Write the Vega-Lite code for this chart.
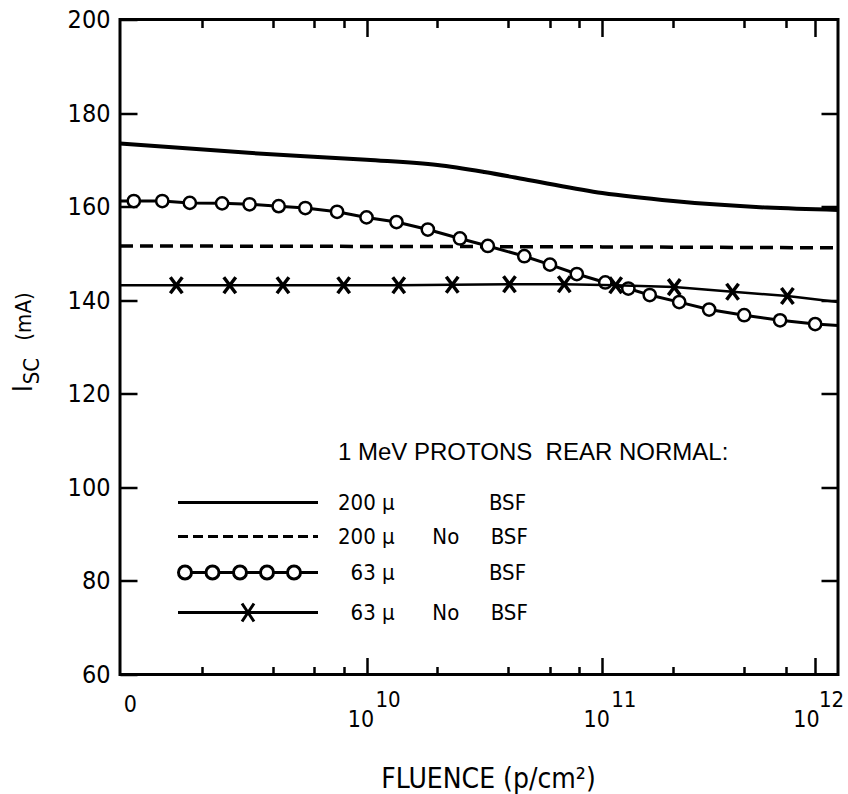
{
  "$schema": "https://vega.github.io/schema/vega-lite/v6.json",
  "width": 718,
  "height": 655,
  "autosize": {"type": "none"},
  "padding": {"left": 120, "top": 19.5, "right": 10, "bottom": 119.5},
  "background": "white",
  "title": {
    "text": "1 MeV PROTONS\u00a0 REAR NORMAL:",
    "anchor": "start",
    "frame": "group",
    "orient": "top",
    "offset": 0,
    "dx": 218,
    "dy": 476,
    "baseline": "alphabetic",
    "font": "Liberation Sans",
    "fontSize": 24,
    "fontWeight": "normal",
    "color": "black"
  },
  "datasets": {
    "curves": [
      {"series": "200μ BSF", "fluence": 9e8, "isc": 173.5},
      {"series": "200μ BSF", "fluence": 3.16e9, "isc": 171.5},
      {"series": "200μ BSF", "fluence": 1e10, "isc": 170.0},
      {"series": "200μ BSF", "fluence": 2e10, "isc": 168.9},
      {"series": "200μ BSF", "fluence": 3.16e10, "isc": 167.4},
      {"series": "200μ BSF", "fluence": 5e10, "isc": 165.6},
      {"series": "200μ BSF", "fluence": 1e11, "isc": 162.9},
      {"series": "200μ BSF", "fluence": 2e11, "isc": 161.2},
      {"series": "200μ BSF", "fluence": 5e11, "isc": 159.8},
      {"series": "200μ BSF", "fluence": 1e12, "isc": 159.3},

      {"series": "200μ No BSF", "fluence": 9e8, "isc": 151.6},
      {"series": "200μ No BSF", "fluence": 1e10, "isc": 151.5},
      {"series": "200μ No BSF", "fluence": 1e11, "isc": 151.4},
      {"series": "200μ No BSF", "fluence": 1e12, "isc": 151.2},

      {"series": "63μ BSF", "fluence": 9e8, "isc": 161.2},
      {"series": "63μ BSF", "fluence": 1.03e9, "isc": 161.2},
      {"series": "63μ BSF", "fluence": 1.36e9, "isc": 161.2},
      {"series": "63μ BSF", "fluence": 1.78e9, "isc": 160.8},
      {"series": "63μ BSF", "fluence": 2.44e9, "isc": 160.7},
      {"series": "63μ BSF", "fluence": 3.19e9, "isc": 160.5},
      {"series": "63μ BSF", "fluence": 4.24e9, "isc": 160.1},
      {"series": "63μ BSF", "fluence": 5.5e9, "isc": 159.7},
      {"series": "63μ BSF", "fluence": 7.5e9, "isc": 158.9},
      {"series": "63μ BSF", "fluence": 1.0e10, "isc": 157.7},
      {"series": "63μ BSF", "fluence": 1.34e10, "isc": 156.7},
      {"series": "63μ BSF", "fluence": 1.82e10, "isc": 155.1},
      {"series": "63μ BSF", "fluence": 2.49e10, "isc": 153.2},
      {"series": "63μ BSF", "fluence": 3.27e10, "isc": 151.6},
      {"series": "63μ BSF", "fluence": 4.67e10, "isc": 149.4},
      {"series": "63μ BSF", "fluence": 6.0e10, "isc": 147.6},
      {"series": "63μ BSF", "fluence": 7.8e10, "isc": 145.6},
      {"series": "63μ BSF", "fluence": 1.03e11, "isc": 143.8},
      {"series": "63μ BSF", "fluence": 1.29e11, "isc": 142.5},
      {"series": "63μ BSF", "fluence": 1.59e11, "isc": 141.1},
      {"series": "63μ BSF", "fluence": 2.12e11, "isc": 139.6},
      {"series": "63μ BSF", "fluence": 2.84e11, "isc": 138.0},
      {"series": "63μ BSF", "fluence": 4.0e11, "isc": 136.8},
      {"series": "63μ BSF", "fluence": 5.68e11, "isc": 135.7},
      {"series": "63μ BSF", "fluence": 8.0e11, "isc": 134.9},
      {"series": "63μ BSF", "fluence": 1e12, "isc": 134.6},

      {"series": "63μ No BSF", "fluence": 9e8, "isc": 143.2},
      {"series": "63μ No BSF", "fluence": 1.56e9, "isc": 143.2},
      {"series": "63μ No BSF", "fluence": 2.63e9, "isc": 143.2},
      {"series": "63μ No BSF", "fluence": 4.42e9, "isc": 143.2},
      {"series": "63μ No BSF", "fluence": 8.0e9, "isc": 143.2},
      {"series": "63μ No BSF", "fluence": 1.37e10, "isc": 143.2},
      {"series": "63μ No BSF", "fluence": 2.31e10, "isc": 143.3},
      {"series": "63μ No BSF", "fluence": 4.04e10, "isc": 143.4},
      {"series": "63μ No BSF", "fluence": 6.9e10, "isc": 143.4},
      {"series": "63μ No BSF", "fluence": 1.14e11, "isc": 143.2},
      {"series": "63μ No BSF", "fluence": 2.02e11, "isc": 142.8},
      {"series": "63μ No BSF", "fluence": 3.57e11, "isc": 141.8},
      {"series": "63μ No BSF", "fluence": 6.1e11, "isc": 140.9},
      {"series": "63μ No BSF", "fluence": 1e12, "isc": 139.6}
    ]
  },
  "data": {"name": "curves"},
  "layer": [
    {
      "transform": [{"filter": "datum.series == '200μ BSF'"}],
      "mark": {"type": "line", "interpolate": "monotone", "color": "black", "strokeWidth": 4},
      "encoding": {
        "x": {
          "field": "fluence", "type": "quantitative",
          "scale": {"type": "log", "domain": [9e8, 1e12], "nice": false},
          "axis": {
            "orient": "bottom",
            "values": [1.05e9, 2e9, 4e9, 6e9, 8e9, 1e10, 2e10, 4e10, 6e10, 8e10, 1e11, 2e11, 4e11, 6e11, 8e11, 1e12],
            "labelExpr": "datum.value < 1.5e9 ? '0' : (datum.value == 1e10 || datum.value == 1e11 || datum.value == 1e12) ? '10' : ''",
            "tickSize": {"condition": {"test": "datum.value == 1e10 || datum.value == 1e11 || datum.value >= 8e11", "value": -17}, "value": -8},
            "tickOpacity": {"condition": {"test": "datum.value < 1.5e9 || datum.value > 9.5e11", "value": 0}, "value": 1},
            "labelPadding": {"condition": {"test": "datum.value < 1.5e9", "value": 27}, "value": 51},
            "labelOffset": {"condition": {"test": "datum.value > 9.5e11", "value": -32}, "value": -6},
            "labelBaseline": "top",
            "labelAlign": "center",
            "labelFontSize": 23,
            "title": "FLUENCE (p/cm²)",
            "titleFontSize": 28,
            "titleX": 368,
            "titleY": 113,
            "titleBaseline": "alphabetic",
            "titleAlign": "center"
          }
        },
        "y": {
          "field": "isc", "type": "quantitative",
          "scale": {"domain": [60, 200], "nice": false, "zero": false},
          "axis": {
            "orient": "left",
            "values": [60, 80, 100, 120, 140, 160, 180, 200],
            "tickSize": -17,
            "labelPadding": 27,
            "labelFontSize": 25,
            "title": "I",
            "titleFontSize": 26,
            "titleX": -89,
            "titleY": 368.5,
            "titleAngle": 270,
            "titleBaseline": "alphabetic",
            "titleAlign": "center"
          }
        }
      }
    },
    {
      "transform": [{"filter": "datum.series == '200μ No BSF'"}],
      "mark": {"type": "line", "color": "black", "strokeWidth": 3.5, "strokeDash": [13, 7]},
      "encoding": {
        "x": {
          "field": "fluence", "type": "quantitative",
          "axis": {
            "orient": "bottom",
            "values": [1e10, 1e11, 1e12],
            "ticks": false,
            "labelExpr": "datum.value < 5e10 ? '10' : datum.value < 5e11 ? '11' : '12'",
            "labelPadding": 15,
            "labelBaseline": "top",
            "labelAlign": "center",
            "labelOffset": {"condition": {"test": "datum.value > 5e11", "value": -7}, "value": 21},
            "labelFontSize": 22,
            "title": null
          }
        },
        "y": {
          "field": "isc", "type": "quantitative",
          "axis": {"orient": "right", "values": [80, 100, 120, 140, 160, 180], "tickSize": -17, "labels": false, "title": null}
        }
      }
    },
    {
      "transform": [{"filter": "datum.series == '63μ BSF'"}],
      "mark": {"type": "line", "color": "black", "strokeWidth": 3},
      "encoding": {
        "x": {
          "field": "fluence", "type": "quantitative",
          "axis": {
            "orient": "top",
            "values": [2e9, 4e9, 6e9, 8e9, 1e10, 2e10, 4e10, 6e10, 8e10, 1e11, 2e11, 4e11, 6e11, 8e11],
            "labels": false,
            "tickSize": {"condition": {"test": "datum.value == 1e10 || datum.value == 1e11 || datum.value >= 8e11", "value": -17}, "value": -8},
            "title": null
          }
        },
        "y": {
          "field": "isc", "type": "quantitative",
          "axis": {
            "orient": "left", "ticks": false, "labels": false,
            "title": "SC", "titleFontSize": 22, "titleX": -82, "titleY": 351,
            "titleAngle": 270, "titleBaseline": "alphabetic", "titleAlign": "center"
          }
        }
      }
    },
    {
      "transform": [{"filter": "datum.series == '63μ BSF' && datum.fluence > 9.5e8 && datum.fluence < 9.5e11"}],
      "mark": {"type": "point", "shape": "circle", "filled": true, "fill": "white", "stroke": "black", "strokeWidth": 2.5, "size": 150, "opacity": 1},
      "encoding": {
        "x": {"field": "fluence", "type": "quantitative", "axis": null},
        "y": {"field": "isc", "type": "quantitative", "axis": null}
      }
    },
    {
      "transform": [{"filter": "datum.series == '63μ No BSF'"}],
      "mark": {"type": "line", "color": "black", "strokeWidth": 2.5},
      "encoding": {
        "x": {"field": "fluence", "type": "quantitative", "axis": null},
        "y": {
          "field": "isc", "type": "quantitative",
          "axis": {
            "orient": "left", "ticks": false, "labels": false,
            "title": "(mA)", "titleFontSize": 22, "titleX": -90, "titleY": 296.5,
            "titleAngle": 270, "titleBaseline": "alphabetic", "titleAlign": "center"
          }
        }
      }
    },
    {
      "transform": [{"filter": "datum.series == '63μ No BSF' && datum.fluence > 9.5e8 && datum.fluence < 9.5e11"}],
      "mark": {"type": "point", "shape": "M-0.75,-1L0.75,1M0.75,-1L-0.75,1", "filled": false, "stroke": "black", "strokeWidth": 3.5, "size": 256, "opacity": 1},
      "encoding": {
        "x": {"field": "fluence", "type": "quantitative", "axis": null},
        "y": {"field": "isc", "type": "quantitative", "axis": null}
      }
    },
    {
      "mark": {"type": "point", "filled": false, "color": "black", "opacity": 0},
      "encoding": {
        "x": {"field": "fluence", "type": "quantitative", "axis": null},
        "y": {"field": "isc", "type": "quantitative", "axis": null},
        "shape": {
          "field": "series", "type": "nominal",
          "scale": {
            "domain": ["200μ BSF", "200μ No BSF", "63μ BSF", "63μ No BSF"],
            "range": [
              "M-7,0L7,0",
              "M-7,0L-6,0M-5.5,0L-4.5,0M-4,0L-3,0M-2.5,0L-1.5,0M-1,0L0,0M0.5,0L1.5,0M2,0L3,0M3.5,0L4.5,0M5,0L6,0M6.5,0L7,0",
              "M-5.65,0L-4.2,0M-2.9,0L-1.45,0M-0.15,0L1.25,0M2.55,0L3.95,0M5.25,0L7,0M-6.95,0A0.65,0.65,0,1,0,-5.65,0A0.65,0.65,0,1,0,-6.95,0M-4.2,0A0.65,0.65,0,1,0,-2.9,0A0.65,0.65,0,1,0,-4.2,0M-1.45,0A0.65,0.65,0,1,0,-0.15,0A0.65,0.65,0,1,0,-1.45,0M1.25,0A0.65,0.65,0,1,0,2.55,0A0.65,0.65,0,1,0,1.25,0M3.95,0A0.65,0.65,0,1,0,5.25,0A0.65,0.65,0,1,0,3.95,0",
              "M-7,0L7,0M-0.6,-0.9L0.6,0.9M0.6,-0.9L-0.6,0.9"
            ]
          },
          "legend": {
            "orient": "none",
            "legendX": 116.5,
            "legendY": 471.5,
            "title": null,
            "direction": "vertical",
            "padding": 0,
            "labelFontSize": 22,
            "labelColor": "black",
            "labelOffset": 78.5,
            "labelLimit": 500,
            "rowPadding": 11,
            "symbolSize": 400,
            "symbolStrokeWidth": 3,
            "symbolStrokeColor": "black",
            "symbolFillColor": "white",
            "symbolOpacity": 1,
            "labelExpr": "datum.label == '200μ BSF' ? '200\u00a0μ\u00a0\u00a0\u00a0\u00a0\u00a0\u00a0\u00a0\u00a0\u00a0\u00a0\u00a0\u00a0\u00a0\u00a0\u00a0BSF' : datum.label == '200μ No BSF' ? '200\u00a0μ\u00a0\u00a0\u00a0\u00a0\u00a0\u00a0No\u00a0\u00a0\u00a0\u00a0\u00a0BSF' : datum.label == '63μ BSF' ? '\u200b\u00a0\u00a063\u00a0μ\u00a0\u00a0\u00a0\u00a0\u00a0\u00a0\u00a0\u00a0\u00a0\u00a0\u00a0\u00a0\u00a0\u00a0\u00a0BSF' : '\u200b\u00a0\u00a063\u00a0μ\u00a0\u00a0\u00a0\u00a0\u00a0\u00a0No\u00a0\u00a0\u00a0\u00a0\u00a0BSF'"
          }
        }
      }
    }
  ],
  "resolve": {"axis": {"x": "independent", "y": "independent"}},
  "config": {
    "font": "Liberation Sans Narrow, DejaVu Sans Condensed, Liberation Sans, sans-serif",
    "view": {"stroke": "black", "strokeWidth": 3},
    "axis": {
      "domain": false,
      "grid": false,
      "tickColor": "black",
      "tickWidth": 2.5,
      "labelColor": "black",
      "titleColor": "black",
      "titleFontWeight": "normal",
      "labelOverlap": false,
      "labelFlush": false,
      "labelBound": false
    },
    "legend": {"labelFont": "Liberation Sans Narrow, DejaVu Sans Condensed, Liberation Sans, sans-serif"}
  }
}
